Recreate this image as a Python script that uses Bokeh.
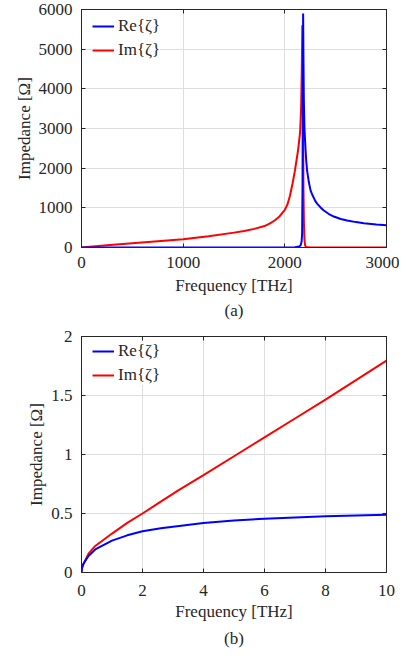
from bokeh.plotting import figure
from bokeh.layouts import column
from bokeh.models import (Range1d, LinearAxis, FixedTicker, Legend, LegendItem,
                          Title, CustomJSTickFormatter)
from bokeh.embed import file_html
from bokeh.resources import INLINE

# ---------------- data ----------------
# (a) wide band 0 - 3000 THz
freq_a_re = [0, 500, 1000, 1500, 2000, 2100, 2140, 2155, 2165, 2170, 2174, 2177,
             2180, 2183, 2187, 2193, 2203, 2210, 2219, 2236, 2253, 2270, 2285,
             2300, 2320, 2351, 2384, 2430, 2482, 2550, 2613, 2700, 2777, 2900, 3000]
re_a = [0, 0, 0, 0, 2, 8, 25, 50, 150, 345, 1500, 4000,
        5900, 4800, 3700, 3000, 2500, 2200, 1940, 1650, 1440, 1330, 1250,
        1170, 1100, 1010, 933, 850, 781, 720, 681, 640, 613, 580, 560]

freq_a_im = [0, 250, 500, 750, 1000, 1250, 1500, 1600, 1700, 1800, 1850, 1900,
             1950, 2000, 2025, 2050, 2075, 2100, 2130, 2150, 2160, 2167, 2172,
             2176, 2179, 2183, 2188, 2193, 2200, 2210, 2250, 2400, 3000]
im_a = [0, 55, 110, 160, 210, 285, 375, 415, 470, 540, 600, 680,
        790, 950, 1080, 1300, 1600, 1950, 2450, 2900, 3500, 4500, 5600,
        5200, 3500, 1500, 600, 200, 50, 10, 0, 0, 0]

# (b) low band 0 - 10 THz
freq_b = [0, 0.01, 0.03, 0.05, 0.1, 0.23, 0.45, 1.0, 1.5, 2, 2.6, 3.2, 4,
          5, 6, 7, 8, 9, 10]
re_b = [0, 0.03, 0.05, 0.065, 0.09, 0.14, 0.195, 0.27, 0.315, 0.35, 0.375, 0.395,
        0.42, 0.44, 0.456, 0.467, 0.476, 0.483, 0.489]
im_b = [0, 0.03, 0.05, 0.065, 0.09, 0.16, 0.225, 0.33, 0.42, 0.5, 0.6, 0.7,
        0.825, 0.985, 1.145, 1.305, 1.465, 1.63, 1.796]

xticks_a = [0, 1000, 2000, 3000]
yticks_a = [0, 1000, 2000, 3000, 4000, 5000, 6000]
xticks_b = [0, 2, 4, 6, 8, 10]
yticks_b = [0, 0.5, 1, 1.5, 2]

labels = ["Re{\u03b6}", "Im{\u03b6}"]
x_title = "Frequency [THz]"
y_title_a = "Impedance [\u03a9]"
y_title_b = "Impedance [\u03a9]"

FONT = "Liberation Serif"
DARK = "#262626"
GRID = "#dedede"
FS = "17px"


def style_axis(ax, ticks, show_labels=True):
    ax.ticker = FixedTicker(ticks=ticks)
    ax.axis_line_color = DARK
    ax.major_tick_line_color = DARK
    ax.major_tick_in = 4
    ax.major_tick_out = 0
    ax.minor_tick_line_color = None
    ax.major_label_text_font = FONT
    ax.major_label_text_color = DARK
    if show_labels:
        ax.formatter = CustomJSTickFormatter(code="return tick.toString();")
        ax.major_label_text_font_size = FS
    else:
        ax.formatter = CustomJSTickFormatter(code="return '';")
        ax.major_label_text_font_size = "1px"
        ax.major_label_standoff = 0


def make_panel(xs_re, ys_re, xs_im, ys_im, xr, yr, xt, yt, ytitle, tag,
               height, top_border, bottom_border, tick_sd, label_sd, title_sd):
    p = figure(width=399, height=height, x_range=Range1d(*xr), y_range=Range1d(*yr),
               output_backend="svg", toolbar_location=None,
               min_border_left=81, min_border_right=13,
               min_border_top=top_border, min_border_bottom=bottom_border)
    p.outline_line_color = DARK
    p.background_fill_color = "white"
    p.border_fill_color = "white"

    style_axis(p.xaxis[0], xt)
    style_axis(p.yaxis[0], yt)
    p.xaxis.major_label_standoff = tick_sd
    p.yaxis.major_label_standoff = 9
    p.xaxis.axis_label = x_title
    p.yaxis.axis_label = ytitle
    for ax in (p.xaxis[0], p.yaxis[0]):
        ax.axis_label_text_font = FONT
        ax.axis_label_text_font_size = FS
        ax.axis_label_text_font_style = "normal"
        ax.axis_label_text_color = DARK
    p.xaxis.axis_label_standoff = label_sd
    p.yaxis.axis_label_standoff = 2

    ax_r = LinearAxis()
    style_axis(ax_r, yt, show_labels=False)
    p.add_layout(ax_r, "right")
    ax_t = LinearAxis()
    style_axis(ax_t, xt, show_labels=False)
    p.add_layout(ax_t, "above")

    p.xgrid.ticker = FixedTicker(ticks=xt)
    p.ygrid.ticker = FixedTicker(ticks=yt)
    p.xgrid.grid_line_color = GRID
    p.ygrid.grid_line_color = GRID

    r_im = p.line(xs_im, ys_im, line_color="#ff0000", line_width=2)
    r_re = p.line(xs_re, ys_re, line_color="#0000ff", line_width=2)

    leg = Legend(items=[LegendItem(label=labels[0], renderers=[r_re]),
                        LegendItem(label=labels[1], renderers=[r_im])],
                 location=(11, 187), padding=6, spacing=4,
                 glyph_width=22, glyph_height=20, label_height=20,
                 label_standoff=4,
                 label_text_font=FONT, label_text_font_size=FS, label_text_color=DARK,
                 border_line_color=None, background_fill_color="white",
                 background_fill_alpha=1.0)
    p.add_layout(leg, "center")

    t = Title(text=tag, align="center", text_font=FONT, text_font_size=FS,
              text_font_style="normal", text_color=DARK, standoff=title_sd)
    p.add_layout(t, "below")
    return p


p1 = make_panel(freq_a_re, re_a, freq_a_im, im_a, (0, 3000), (0, 6000),
                xticks_a, yticks_a, y_title_a, "(a)", 322, 9, 75, 9, 5, 2)
p2 = make_panel(freq_b, re_b, freq_b, im_b, (0, 10), (0, 2),
                xticks_b, yticks_b, y_title_b, "(b)", 328, 14, 76, 12, 3, 6)

layout = column(p1, p2)
open("out.html", "w").write(file_html(layout, INLINE))
